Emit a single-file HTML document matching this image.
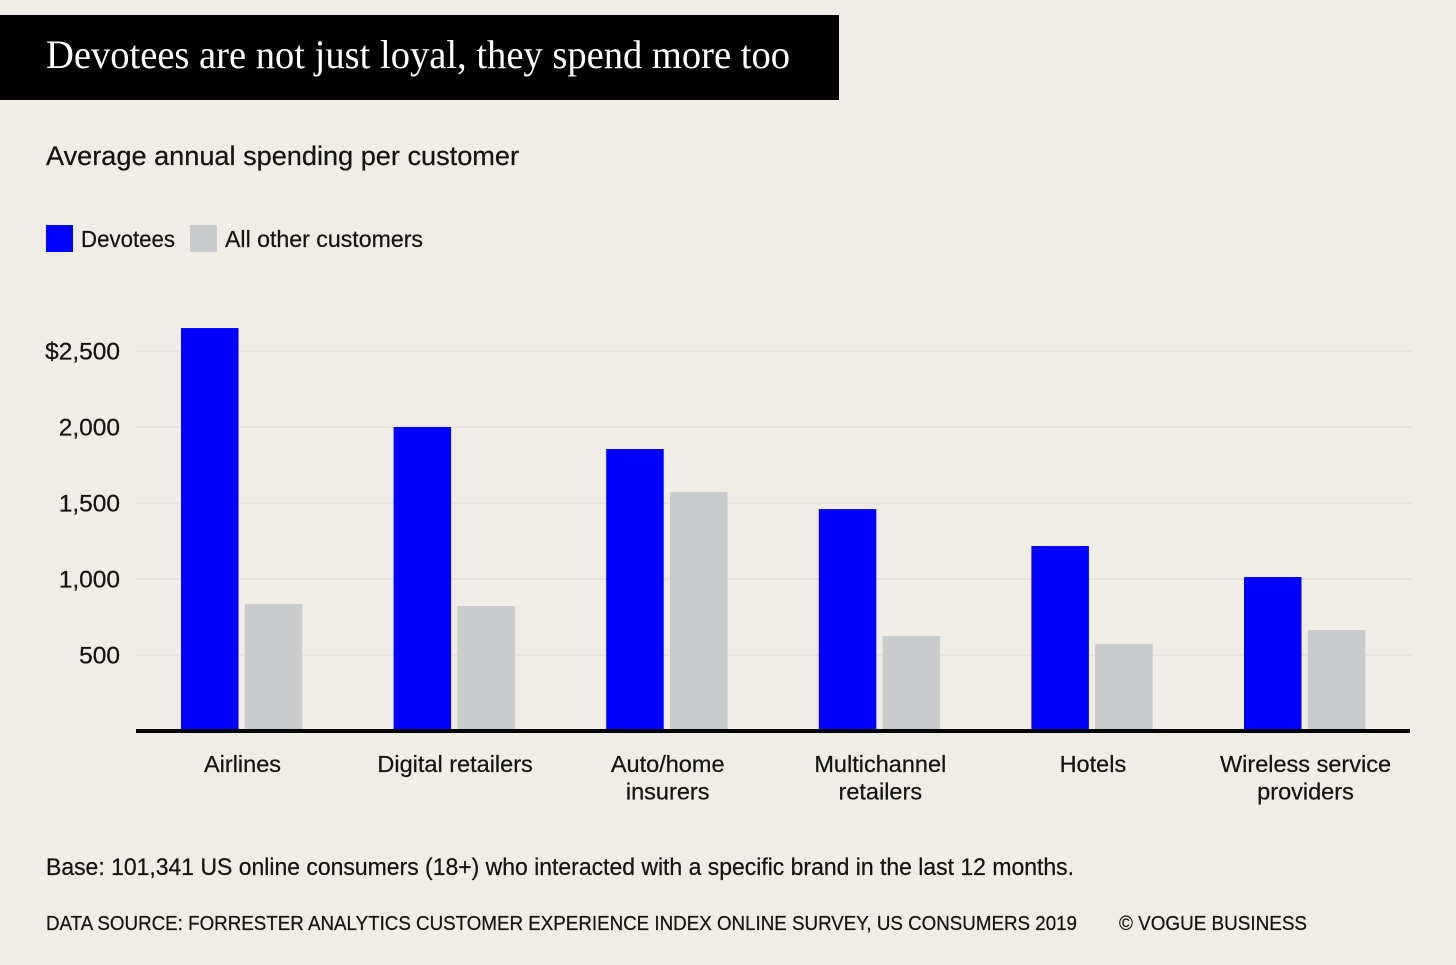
<!DOCTYPE html>
<html lang="en">
<head>
<meta charset="utf-8">
<title>Devotees are not just loyal, they spend more too</title>
<style>
  html, body { margin: 0; padding: 0; background: #f0ede6; }
  body { width: 1456px; height: 965px; overflow: hidden; }
  svg { display: block; }
  text { font-family: "Liberation Sans", sans-serif; fill: #141414; stroke: #141414; stroke-width: 0.25px; }
  .serif { font-family: "Liberation Serif", serif; fill: #ffffff; stroke: none; }
</style>
</head>
<body>
<svg id="chart" width="1456" height="965" viewBox="0 0 1456 965" xmlns="http://www.w3.org/2000/svg">
  <rect x="0" y="0" width="1456" height="965" fill="#f0ede6"/>
  <rect x="0" y="15" width="839" height="85" fill="#000000"/>
  <text class="serif" x="46" y="68" font-size="40" textLength="744" lengthAdjust="spacingAndGlyphs">Devotees are not just loyal, they spend more too</text>
  <text x="46" y="165" font-size="26.5" textLength="473" lengthAdjust="spacingAndGlyphs">Average annual spending per customer</text>

  <rect x="46" y="225" width="27" height="27" fill="#0000ff"/>
  <text x="81" y="247" font-size="23.5" textLength="94" lengthAdjust="spacingAndGlyphs">Devotees</text>
  <rect x="190" y="225" width="27" height="27" fill="#c9cbcc"/>
  <text x="225" y="247" font-size="23.5" textLength="198" lengthAdjust="spacingAndGlyphs">All other customers</text>

  <g id="grid"></g>
  <g id="yticks"></g>
  <g id="bars"></g>
  <rect x="136" y="729" width="1274" height="4" fill="#000000"/>
  <g id="xlabels"></g>

  <text x="46" y="875" font-size="24" textLength="1028" lengthAdjust="spacingAndGlyphs">Base: 101,341 US online consumers (18+) who interacted with a specific brand in the last 12 months.</text>
  <text x="46" y="930" font-size="20.5" textLength="1031" lengthAdjust="spacingAndGlyphs">DATA SOURCE: FORRESTER ANALYTICS CUSTOMER EXPERIENCE INDEX ONLINE SURVEY, US CONSUMERS 2019</text>
  <text x="1119" y="930" font-size="20.5" textLength="188" lengthAdjust="spacingAndGlyphs">© VOGUE BUSINESS</text>
</svg>
<script>
const categories = [
  ["Airlines"],
  ["Digital retailers"],
  ["Auto/home", "insurers"],
  ["Multichannel", "retailers"],
  ["Hotels"],
  ["Wireless service", "providers"]
];
const devotees = [2651, 2000, 1855, 1460, 1217, 1013];
const otherCustomers = [835, 822, 1572, 625, 572, 664];
const tickValues = [2500, 2000, 1500, 1000, 500];
const tickLabels = ["$2,500", "2,000", "1,500", "1,000", "500"];

const NS = "http://www.w3.org/2000/svg";
const yZero = 731;
const pxPerUnit = 76 / 500;
const groupStart = 181;
const groupStep = 212.6;
const barWidth = 57.5;
const barOffset = 63.8;
const yScale = function (v) { return yZero - v * pxPerUnit; };
const xScale = function (i) { return groupStart + i * groupStep; };

const gridGroup = document.getElementById("grid");
const tickGroup = document.getElementById("yticks");
const barGroup = document.getElementById("bars");
const labelGroup = document.getElementById("xlabels");

tickValues.forEach(function (v, i) {
  const line = document.createElementNS(NS, "line");
  line.setAttribute("x1", 136);
  line.setAttribute("x2", 1412);
  line.setAttribute("y1", yScale(v));
  line.setAttribute("y2", yScale(v));
  line.setAttribute("stroke", "#e6e3dc");
  line.setAttribute("stroke-width", 2);
  
  
  gridGroup.appendChild(line);

  const label = document.createElementNS(NS, "text");
  label.setAttribute("x", 120);
  label.setAttribute("y", yScale(v) + 8.5);
  label.setAttribute("text-anchor", "end");
  label.setAttribute("font-size", 24.5);
  label.textContent = tickLabels[i];
  
  
  tickGroup.appendChild(label);
});

function drawBar(value, x, fill, name) {
  const bar = document.createElementNS(NS, "rect");
  bar.setAttribute("x", x);
  bar.setAttribute("y", yScale(value));
  bar.setAttribute("width", barWidth);
  bar.setAttribute("height", yZero - yScale(value));
  bar.setAttribute("fill", fill);
  
  
  barGroup.appendChild(bar);
}

categories.forEach(function (lines, i) {
  drawBar(devotees[i], xScale(i), "#0000ff", "bar-devotees");
  drawBar(otherCustomers[i], xScale(i) + barOffset, "#c9cbcc", "bar-other-customers");

  lines.forEach(function (lineText, j) {
    const label = document.createElementNS(NS, "text");
    label.setAttribute("x", xScale(i) + 61.5);
    label.setAttribute("y", 772 + j * 27.5);
    label.setAttribute("text-anchor", "middle");
    label.setAttribute("font-size", 23.5);
    label.textContent = lineText;
    
    
    labelGroup.appendChild(label);
  });
});
</script>
</body>
</html>
